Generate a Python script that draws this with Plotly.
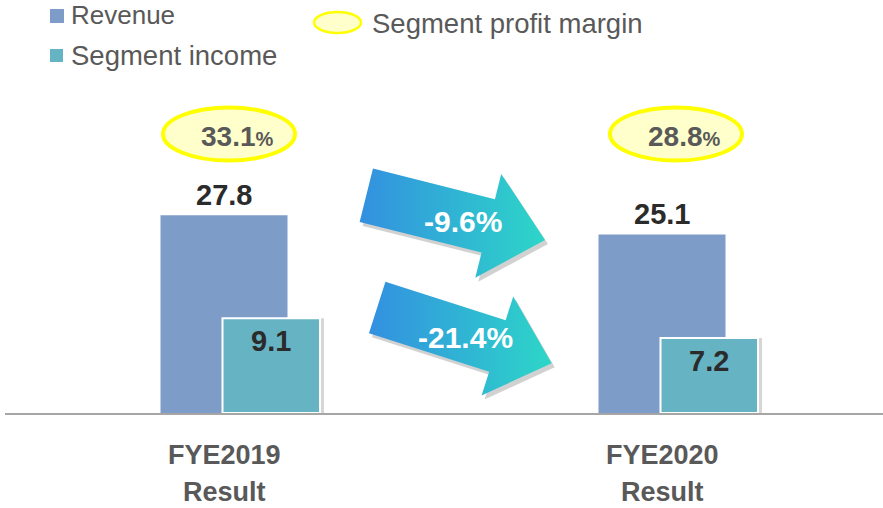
import plotly.graph_objects as go

# ---------------- data ----------------
categories = ["FYE2019", "FYE2020"]
category_sub = ["Result", "Result"]
revenue = [27.8, 25.1]
segment_income = [9.1, 7.2]
profit_margin = ["33.1", "28.8"]
change_labels = ["-9.6%", "-21.4%"]
legend_names = ["Revenue", "Segment income", "Segment profit margin"]

# ---------------- layout geometry (pixels) ----------------
W, H = 883, 508
ML, MR, MT, MB = 5, 0, 0, 95
PW, PH = W - ML - MR, H - MT - MB
CAT_PX = 438.0          # pixels between category centres
CAT0 = 224.0            # pixel x of first category centre
x_range = [(ML - CAT0) / CAT_PX, (ML + PW - CAT0) / CAT_PX]
rev_px_per_unit = 7.115
seg_px_per_unit = 10.4

REV_COLOR = "#7E9CC8"
SEG_COLOR = "#66B3C4"
TXT_GREY = "#595959"
VAL_COLOR = "#2B2B2B"
FONT = "Arial, Liberation Sans, sans-serif"

xs = list(range(len(categories)))

fig = go.Figure()

# Revenue bars
fig.add_trace(go.Bar(
    x=xs, y=revenue, width=127 / CAT_PX, offset=-63.5 / CAT_PX,
    marker=dict(color=REV_COLOR, line=dict(width=0)),
    yaxis="y", showlegend=False, hoverinfo="skip"))

# Segment income shadow + bars (secondary scale)
fig.add_trace(go.Bar(
    x=xs, y=segment_income, width=97.5 / CAT_PX, offset=2.5 / CAT_PX,
    marker=dict(color="rgba(0,0,0,0.16)", line=dict(width=0)),
    yaxis="y2", showlegend=False, hoverinfo="skip"))
fig.add_trace(go.Bar(
    x=xs, y=segment_income, width=97.5 / CAT_PX, offset=-1.5 / CAT_PX,
    marker=dict(color=SEG_COLOR, line=dict(color="white", width=2)),
    yaxis="y2", showlegend=False, hoverinfo="skip"))

# ---------------- arrows (pixel overlay axes) ----------------
arrow_geom = [  # tail centre, tip, shaft half width, head half width, head length
    dict(t=(366.3, 195.3), p=(545.0, 240.0), w=27.5, h=53.5, hl=58.5, lab=(463, 221)),
    dict(t=(377.2, 307.5), p=(551.7, 363.3), w=27.0, h=52.0, hl=57.0, lab=(465, 337)),
]


def arrow_poly(g, dx=0.0, dy=0.0):
    tx, ty = g["t"]
    px, py = g["p"]
    L = ((px - tx) ** 2 + (py - ty) ** 2) ** 0.5
    ux, uy = (px - tx) / L, (py - ty) / L
    nx, ny = uy, -ux
    bx, by = px - ux * g["hl"], py - uy * g["hl"]
    w, h = g["w"], g["h"]
    pts = [(tx + nx * w, ty + ny * w), (bx + nx * w, by + ny * w),
           (bx + nx * h, by + ny * h), (px, py),
           (bx - nx * h, by - ny * h), (bx - nx * w, by - ny * w),
           (tx - nx * w, ty - ny * w), (tx + nx * w, ty + ny * w)]
    return [p[0] + dx for p in pts], [p[1] + dy for p in pts]


for g in arrow_geom:
    sx, sy = arrow_poly(g, 3, 4)
    fig.add_trace(go.Scatter(x=sx, y=sy, xaxis="x3", yaxis="y3", mode="none",
                             fill="toself", fillcolor="rgba(0,0,0,0.18)",
                             showlegend=False, hoverinfo="skip"))
    ax_, ay_ = arrow_poly(g)
    fig.add_trace(go.Scatter(x=ax_, y=ay_, xaxis="x3", yaxis="y3", mode="none",
                             fill="toself",
                             fillgradient=dict(type="horizontal",
                                               colorscale=[[0, "#3390E0"], [1, "#2DD6C8"]]),
                             showlegend=False, hoverinfo="skip"))

annotations = []
shapes = []

for g, lab in zip(arrow_geom, change_labels):
    annotations.append(dict(x=g["lab"][0], y=g["lab"][1], xref="x3", yref="y3",
                            text=f"<b>{lab}</b>", showarrow=False,
                            font=dict(family=FONT, size=30, color="white"),
                            xanchor="center", yanchor="middle"))

# value labels
for i, v in enumerate(revenue):
    annotations.append(dict(x=i, y=v, xref="x", yref="y", text=f"<b>{v}</b>",
                            showarrow=False, yshift=20,
                            font=dict(family=FONT, size=29, color=VAL_COLOR),
                            xanchor="center", yanchor="middle"))
seg_center = (-1.5 + 97.5 / 2) / CAT_PX
for i, v in enumerate(segment_income):
    annotations.append(dict(x=i + seg_center, y=v, xref="x", yref="y2", text=f"<b>{v}</b>",
                            showarrow=False, yshift=-23,
                            font=dict(family=FONT, size=29, color=VAL_COLOR),
                            xanchor="center", yanchor="middle"))

# profit margin ellipses
ell_shift = [5, 14]
for i, m in enumerate(profit_margin):
    cx = CAT0 + i * CAT_PX + ell_shift[i]
    shapes.append(dict(type="circle", xref="x3", yref="y3",
                       x0=cx - 66, x1=cx + 66, y0=107.5, y1=160.5,
                       line=dict(color="#FFFF00", width=4), fillcolor="#FFFFCC",
                       layer="above"))
    annotations.append(dict(x=cx + 8, y=136, xref="x3", yref="y3",
                            text=f"<b>{m}<span style='font-size:20px'>%</span></b>",
                            showarrow=False,
                            font=dict(family=FONT, size=28, color=TXT_GREY),
                            xanchor="center", yanchor="middle"))

# category labels
for i, (c, s) in enumerate(zip(categories, category_sub)):
    annotations.append(dict(x=i, y=0, xref="x", yref="paper", text=f"<b>{c}</b>",
                            showarrow=False, yshift=-42,
                            font=dict(family=FONT, size=27, color=TXT_GREY),
                            xanchor="center", yanchor="middle"))
    annotations.append(dict(x=i, y=0, xref="x", yref="paper", text=f"<b>{s}</b>",
                            showarrow=False, yshift=-79,
                            font=dict(family=FONT, size=27, color=TXT_GREY),
                            xanchor="center", yanchor="middle"))

# custom legend
shapes.append(dict(type="rect", xref="x3", yref="y3", x0=50, x1=64, y0=9, y1=23,
                   fillcolor=REV_COLOR, line=dict(width=0)))
shapes.append(dict(type="rect", xref="x3", yref="y3", x0=50, x1=63, y0=49, y1=62,
                   fillcolor=SEG_COLOR, line=dict(width=0)))
shapes.append(dict(type="circle", xref="x3", yref="y3", x0=314, x1=361, y0=12, y1=33,
                   fillcolor="#FFFFCC", line=dict(color="#FFFF00", width=2.5)))
for name, (lx, ly), fs in zip(legend_names, [(69, 15), (69, 55), (370, 23)],
                              [26, 27.5, 27.5]):
    annotations.append(dict(x=lx, y=ly, xref="x3", yref="y3", text=name,
                            showarrow=False, xanchor="left", yanchor="middle",
                            font=dict(family=FONT, size=fs, color=TXT_GREY)))

fig.update_layout(
    width=W, height=H,
    margin=dict(l=ML, r=MR, t=MT, b=MB, pad=0),
    paper_bgcolor="white", plot_bgcolor="white",
    barmode="overlay", showlegend=False,
    xaxis=dict(range=x_range, showgrid=False, zeroline=False, showticklabels=False,
               ticks="", showline=True, linecolor="#A6A6A6", linewidth=2),
    yaxis=dict(range=[0, PH / rev_px_per_unit], visible=False, showgrid=False),
    yaxis2=dict(range=[0, PH / seg_px_per_unit], visible=False, overlaying="y",
                showgrid=False),
    xaxis3=dict(range=[ML, ML + PW], visible=False, overlaying="x"),
    yaxis3=dict(range=[PH, 0], visible=False, overlaying="y", anchor="x3"),
    shapes=shapes, annotations=annotations,
)

fig.write_html("out.html",
               config={"displayModeBar": False, "staticPlot": True},
               post_script="document.body.style.margin='0';"
                           "document.body.style.overflow='hidden';")
